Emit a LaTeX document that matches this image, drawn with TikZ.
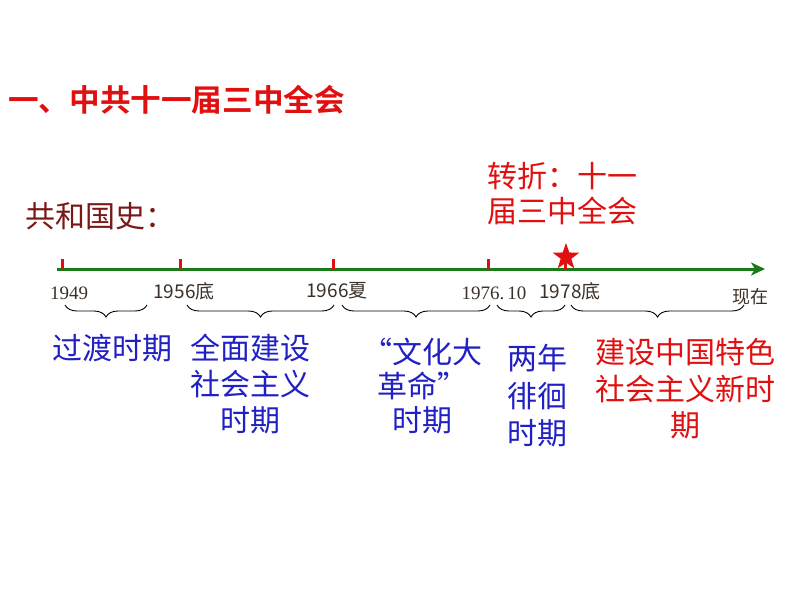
\documentclass[tikz,border=0pt]{standalone}
\usepackage{fontspec}
\newfontfamily\cjk{Noto Sans CJK SC}
\newfontfamily\cjkb{Noto Sans CJK SC Bold}
\newfontfamily\numf{Liberation Serif}
\usetikzlibrary{arrows.meta,shapes.geometric,decorations.pathreplacing}
\definecolor{tred}{RGB}{224,16,16}
\definecolor{dred}{RGB}{122,24,24}
\definecolor{tblue}{RGB}{32,32,196}
\definecolor{tgreen}{RGB}{24,122,24}
\definecolor{dlab}{RGB}{60,48,40}
\tikzset{
  big/.style={font=\cjk\fontsize{30}{36}\selectfont, inner sep=0pt, align=center},
  datelab/.style={font=\cjk\fontsize{19}{20}\selectfont, text=dlab, inner sep=0pt},
  numlab/.style={datelab, font=\numf\fontsize{19}{20}\selectfont},
  tick/.style={draw=tred, line width=3pt},
  brc/.style={draw=black, line width=0.9pt, decorate, decoration={brace, amplitude=12pt, mirror}},
}
\begin{document}
\begin{tikzpicture}[x=1pt,y=-1pt]
\useasboundingbox (0,0) rectangle (794,596);
% title
\node[font=\cjkb\fontsize{30.6}{36}\selectfont, text=tred, anchor=west, inner sep=0pt] (title) at (8,100) {一、中共十一届三中全会};
\node[big, text=dred, anchor=west] (hist) at (25,216) {共和国史：};
\node[big, text=tred, anchor=north west, align=left, font=\cjk\fontsize{30}{35}\selectfont] (turn) at (487,162) {转折：十一\\届三中全会};
% axis
\coordinate (axL) at (57,269);
\coordinate (axR) at (765,269);
\draw[draw=tgreen, line width=3pt, -{Stealth[length=14pt,width=13pt,inset=4pt]}] (axL) -- (axR);
% ticks
\foreach \n/\x in {t1/62,t2/180,t3/333,t4/488,t5/565}{
  \coordinate (\n a) at (\x,259);
  \coordinate (\n b) at (\x,270);
  \draw[tick] (\n a) -- (\n b);
}
\node[star, star points=5, star point ratio=2.5, fill=tred, inner sep=0pt, minimum size=28pt] (star) at (566,257) {};
% date labels
\node[numlab] (d1) at (69,293) {1949};
\node[datelab] (d2) at (184,291) {1956底};
\node[datelab] (d3) at (337,291) {1966夏};
\node[numlab] (d4) at (494,293) {1976.\,10};
\node[datelab] (d5) at (570,291) {1978底};
\node[datelab, font=\cjk\fontsize{18}{20}\selectfont] (d6) at (750,297) {现在};
% braces
\foreach \n/\a/\b in {b1/65/147,b2/187/334,b3/342/490,b4/497/565,b5/571/744}{
  \coordinate (\n a) at (\a,305);
  \coordinate (\n b) at (\b,305);
  \draw[brc] (\n a) -- (\n b);
}
% period labels
\node[big, text=tblue] (p1) at (112,348) {过渡时期};
\node[big, text=tblue] (p2) at (250,384) {全面建设\\社会主义\\时期};
\node[big, text=tblue, font=\cjk\fontsize{30}{34}\selectfont] (p3) at (422,386) {“文化大\\革命”\\时期};
\node[big, text=tblue, font=\cjk\fontsize{30}{37.5}\selectfont] (p4) at (537,396) {两年\\徘徊\\时期};
\node[big, text=tred, font=\cjk\fontsize{30}{36.5}\selectfont] (p5) at (685,389) {建设中国特色\\社会主义新时\\期};
\end{tikzpicture}
\end{document}
